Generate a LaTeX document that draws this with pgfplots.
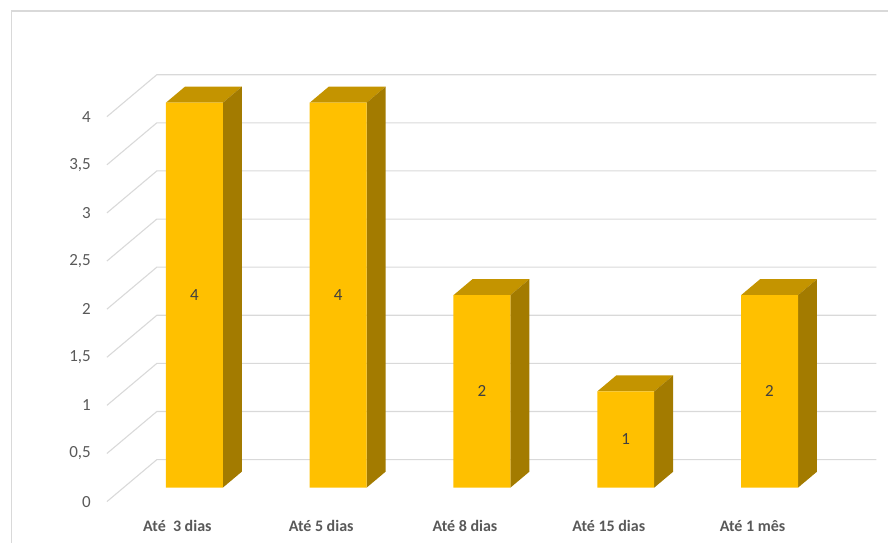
\documentclass[border=0pt]{standalone}
\usepackage{fontspec}
\setmainfont{Carlito}
\usepackage{pgfplots}
\usepackage{pgfplotstable}
\pgfplotsset{compat=1.18}

\definecolor{barFront}{HTML}{FFC000}
\definecolor{barTop}{HTML}{C49400}
\definecolor{barSide}{HTML}{A37B00}
\definecolor{gridGray}{HTML}{D9D9D9}
\definecolor{tickGray}{HTML}{595959}
\definecolor{labelGray}{HTML}{404040}

\pgfplotstableread{
idx value
0 4
1 4
2 2
3 1
4 2
}\counts

% bar geometry, in data units
\def\hw{0.198}   % half width of a bar's front face
\def\dx{0.132}   % depth of a bar, horizontal part
\def\dy{0.166}   % depth of a bar, vertical part

\begin{document}
\begin{tikzpicture}
\begin{axis}[
  width=889pt, height=543pt, scale only axis,
  xmin=-1.3516, xmax=4.8263, ymin=-0.5711, ymax=5.0675,
  clip=false,
  axis line style={draw=none},
  tick style={draw=none},
  major tick length=0pt,
  ytick={0,0.5,1,1.5,2,2.5,3,3.5,4},
  /pgf/number format/assume math mode=true,
  /pgf/number format/use comma,
  yticklabel style={anchor=east, inner sep=0pt, xshift=91pt, yshift=-14pt,
    font=\fontsize{17}{20}\selectfont, text=tickGray},
  xtick={0,1,2,3,4},
  xticklabels={Até~~3 dias, Até 5 dias, Até 8 dias, Até 15 dias, Até 1 mês},
  xticklabel style={anchor=center, inner sep=0pt, xshift=-17pt, yshift=17pt,
    font=\bfseries\fontsize{16}{19}\selectfont, text=tickGray},
]
% chart frame
\draw[gridGray, line width=1.3pt]
  (rel axis cs:0.0129,0) -- (rel axis cs:0.0129,0.9797) -- (rel axis cs:1,0.9797);

% back wall gridlines with their diagonals to the front plane
\pgfplotsinvokeforeach{0,0.5,1,1.5,2,2.5,3,3.5,4}{
  \draw[gridGray, line width=1.1pt]
    (axis cs:-0.608,#1-0.145) -- (axis cs:-0.261,#1+0.291) -- (axis cs:4.743,#1+0.291);
}

% top and side faces of each bar
\pgfplotsinvokeforeach{0,1,2,3,4}{%
  \pgfplotstablegetelem{#1}{value}\of\counts
  \pgfmathsetmacro\vv{\pgfplotsretval}
  \pgfmathsetmacro\vt{\vv+\dy}
  \pgfmathsetmacro\xl{#1-\hw}
  \pgfmathsetmacro\xr{#1+\hw}
  \pgfmathsetmacro\xlb{#1-\hw+\dx}
  \pgfmathsetmacro\xrb{#1+\hw+\dx}
  \edef\faces{%
    \noexpand\addplot[fill=barTop, draw=none, forget plot]
      coordinates {(\xl,\vv) (\xr,\vv) (\xrb,\vt) (\xlb,\vt)} -- cycle;
    \noexpand\addplot[fill=barSide, draw=none, forget plot]
      coordinates {(\xr,0) (\xrb,\dy) (\xrb,\vt) (\xr,\vv)} -- cycle;
  }%
  \faces
}

% front faces
\addplot[ybar, bar shift=0pt, bar width=57pt, fill=barFront, draw=none]
  table[x=idx, y=value] {\counts};

% value labels in the middle of each bar
\addplot[draw=none, mark=none, nodes near coords, point meta=explicit,
  nodes near coords style={anchor=center, text=labelGray,
    font=\fontsize{17}{20}\selectfont}]
  table[x=idx, y expr=\thisrow{value}/2, meta=value] {\counts};
\end{axis}
\end{tikzpicture}
\end{document}
